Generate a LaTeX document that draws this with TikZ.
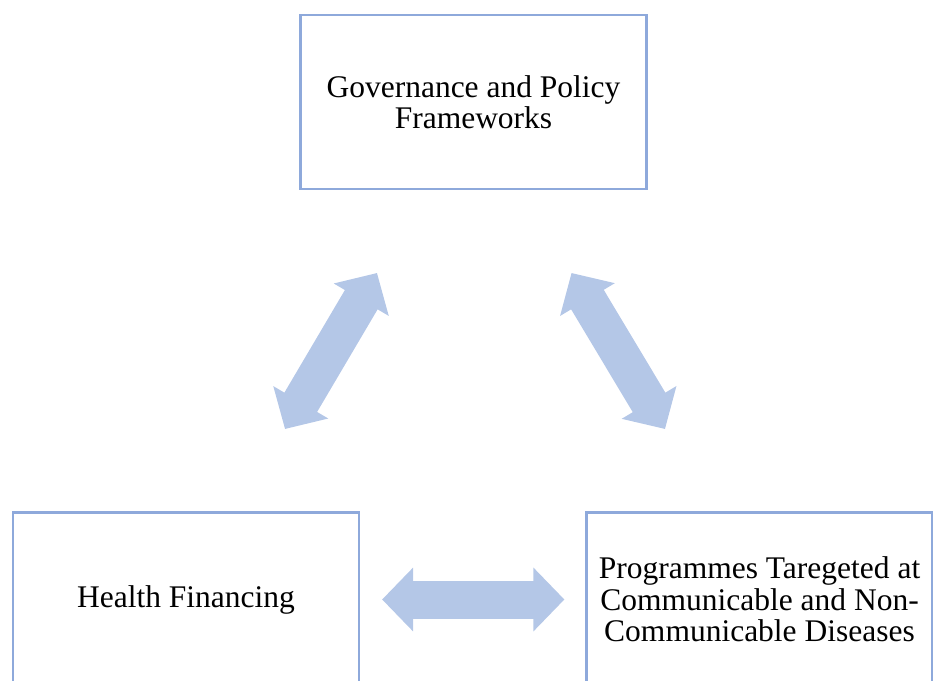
\documentclass[tikz,border=0pt]{standalone}
\usepackage{fontspec}
\setmainfont{Liberation Serif}
\usetikzlibrary{arrows.meta}
\definecolor{framecol}{HTML}{8EA9DB}
\definecolor{linkcol}{HTML}{B4C7E7}

\begin{document}
\begin{tikzpicture}[x=1pt, y=1pt, font=\fontsize{31.5}{31.5}\selectfont,
    pillar/.style={draw=framecol, line width=2.2pt, fill=white, align=center,
      minimum width=346pt, minimum height=174pt, inner sep=0pt},
    link/.style={linkcol, line width=38pt,
      {Triangle[length=31pt, width=62pt]}-{Triangle[length=31pt, width=62pt]}}]
  \clip (0,0) rectangle (933,680);
  \node[pillar] (gov)  at (473.5,578) {Governance and Policy\\Frameworks};
  \node[pillar] (fin)  at (186,80.5)  {Health Financing};
  \node[pillar] (prog) at (759.5,80.5) {Programmes Taregeted at\\Communicable and Non-\\Communicable Diseases};
  % free ends of the slanted links
  \coordinate (gl) at (377,407);
  \coordinate (fl) at (285,251);
  \coordinate (gr) at (571.5,407);
  \coordinate (pr) at (665,251);
  \draw[link] (fl) -- (gl);
  \draw[link] (gr) -- (pr);
  \draw[link, shorten <=22pt, shorten >=21pt] (fin) -- (prog);
\end{tikzpicture}
\end{document}
